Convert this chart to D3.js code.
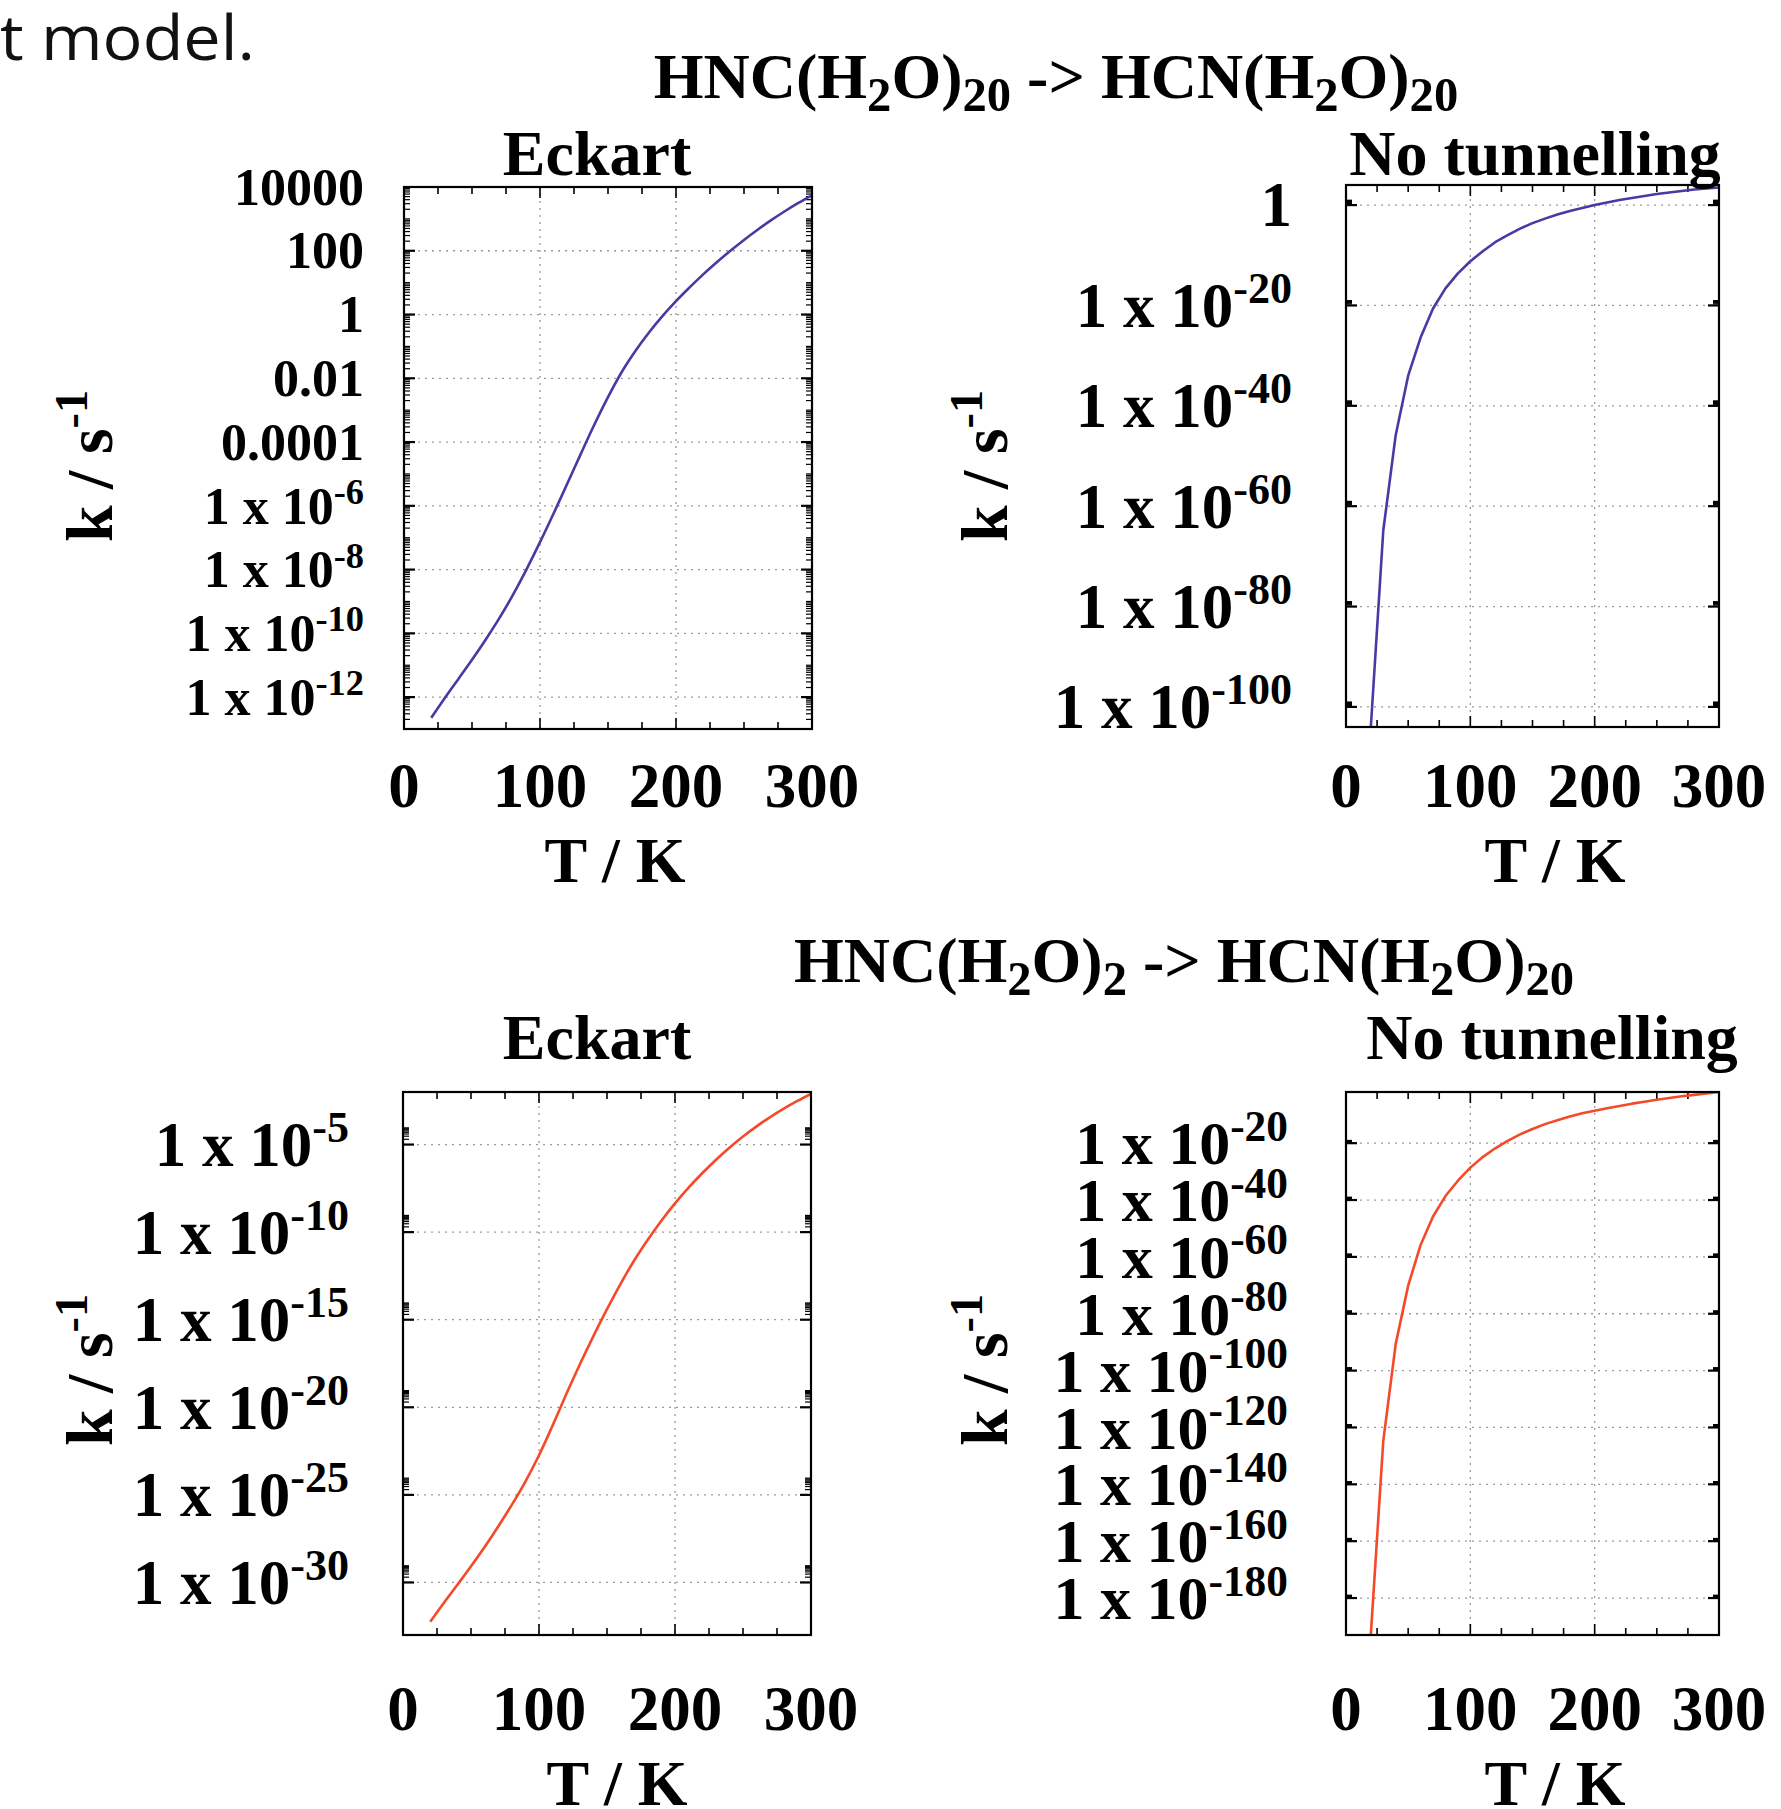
<!DOCTYPE html>
<html>
<head>
<meta charset="utf-8">
<script src="https://cdn.jsdelivr.net/npm/d3@7"></script>
<style>
  html, body { margin: 0; padding: 0; background: #fff; }
  svg { display: block; }
</style>
</head>
<body>
<div id="chart"></div>
<script>
// temperatures (K) at which the curves were read
const temps = [20, 30, 40, 50, 60, 70, 80, 90, 100, 110, 120, 130, 140, 150, 160,
               170, 180, 190, 200, 210, 220, 230, 240, 250, 260, 270, 280, 290, 300];

// log10(k / s^-1)
const eckart20 = [-12.65, -12.03, -11.43, -10.83, -10.2, -9.53, -8.8, -8.0, -7.14, -6.24,
                  -5.31, -4.37, -3.45, -2.59, -1.81, -1.15, -0.57, -0.05, 0.42, 0.85,
                  1.26, 1.64, 2.0, 2.34, 2.66, 2.96, 3.24, 3.5, 3.74];
const noTunnel20 = [-103.9, -64.8, -45.8, -34.0, -26.4, -20.6, -16.6, -13.6, -11.2, -9.2,
                    -7.4, -6.0, -4.7, -3.6, -2.7, -1.9, -1.2, -0.6, 0.0, 0.5,
                    1.0, 1.4, 1.8, 2.2, 2.5, 2.8, 3.1, 3.3, 3.5];
const eckart2 = [-32.25, -31.17, -30.13, -29.08, -27.98, -26.81, -25.57, -24.24, -22.74, -21.04,
                 -19.26, -17.56, -15.94, -14.4, -12.95, -11.62, -10.44, -9.35, -8.36, -7.46,
                 -6.64, -5.88, -5.18, -4.54, -3.96, -3.43, -2.95, -2.51, -2.11];
const noTunnel2 = [-192.7, -124.6, -90.6, -70.1, -55.8, -45.8, -38.6, -33.2, -28.6, -24.9,
                   -21.8, -19.2, -16.9, -15.0, -13.3, -11.9, -10.6, -9.5, -8.6, -7.7,
                   -6.9, -6.1, -5.4, -4.7, -4.1, -3.5, -3.0, -2.5, -2.0];

const xTicks = [0, 100, 200, 300];
const xMinorStep = 25;

// y tick exponents and their labels ("^{..}" = superscript)
const yTicks1 = [4, 2, 0, -2, -4, -6, -8, -10, -12];
const yLabels1 = ["10000", "100", "1", "0.01", "0.0001", "1 x 10^{-6}", "1 x 10^{-8}",
                  "1 x 10^{-10}", "1 x 10^{-12}"];
const yTicks2 = [0, -20, -40, -60, -80, -100];
const yLabels2 = ["1", "1 x 10^{-20}", "1 x 10^{-40}", "1 x 10^{-60}", "1 x 10^{-80}", "1 x 10^{-100}"];
const yTicks3 = [-5, -10, -15, -20, -25, -30];
const yLabels3 = ["1 x 10^{-5}", "1 x 10^{-10}", "1 x 10^{-15}", "1 x 10^{-20}", "1 x 10^{-25}", "1 x 10^{-30}"];
const yTicks4 = [-20, -40, -60, -80, -100, -120, -140, -160, -180];
const yLabels4 = ["1 x 10^{-20}", "1 x 10^{-40}", "1 x 10^{-60}", "1 x 10^{-80}", "1 x 10^{-100}",
                  "1 x 10^{-120}", "1 x 10^{-140}", "1 x 10^{-160}", "1 x 10^{-180}"];

const titleTop = "HNC(H_{2}O)_{20} -> HCN(H_{2}O)_{20}";
const titleBottom = "HNC(H_{2}O)_{2} -> HCN(H_{2}O)_{20}";

const BLUE = "#4d37a3";
const RED = "#f44a2a";
const SERIF = "'Liberation Serif', 'Times New Roman', serif";

const W = 1781, H = 1809;

const panels = [
    { vals: eckart20, color: BLUE, smooth: true, yTicks: yTicks1, yLabels: yLabels1, yDom: [-13, 4],
      box: { l: 404, r: 812, t: 187, b: 729 }, sub: "Eckart", subX: 597, subY: 175,
      tickFs: 52, labelRight: 364, allDecades: true,
      yLab: { x: 112, y: 466 }, xTickY: 807, xLabX: 615, xLabY: 882 },
    { vals: noTunnel20, color: BLUE, smooth: false, yTicks: yTicks2, yLabels: yLabels2, yDom: [-104, 4],
      box: { l: 1346, r: 1719, t: 185, b: 727 }, sub: "No tunnelling", subX: 1535, subY: 175,
      tickFs: 63, labelRight: 1292, allDecades: false,
      yLab: { x: 1007, y: 466 }, xTickY: 807, xLabX: 1555, xLabY: 882 },
    { vals: eckart2, color: RED, smooth: true, yTicks: yTicks3, yLabels: yLabels3, yDom: [-33, -2],
      box: { l: 403, r: 811, t: 1092, b: 1635 }, sub: "Eckart", subX: 597, subY: 1059,
      tickFs: 63, labelRight: 349, allDecades: false,
      yLab: { x: 112, y: 1370 }, xTickY: 1730, xLabX: 617, xLabY: 1805 },
    { vals: noTunnel2, color: RED, smooth: false, yTicks: yTicks4, yLabels: yLabels4, yDom: [-193, -2],
      box: { l: 1346, r: 1719, t: 1092, b: 1635 }, sub: "No tunnelling", subX: 1552, subY: 1059,
      tickFs: 62, labelRight: 1288, allDecades: false,
      yLab: { x: 1007, y: 1370 }, xTickY: 1730, xLabX: 1555, xLabY: 1805 }
];

const svg = d3.select("#chart").append("svg")
    .attr("width", W)
    .attr("height", H)
    .style("background", "#fff");

svg.append("rect").attr("width", W).attr("height", H).attr("fill", "#fff");

// text with _{sub} and ^{sup} pieces
function richText(parent, str, fs, x, y, anchor) {
    const t = parent.append("text")
        .attr("x", x)
        .attr("y", y)
        .attr("text-anchor", anchor)
        .attr("font-family", SERIF)
        .attr("font-weight", "bold")
        .attr("font-size", fs)
        .attr("fill", "#000");
    const re = /([_^])\{([^}]*)\}/g;
    let last = 0, shift = 0, m;
    while ((m = re.exec(str)) !== null) {
        if (m.index > last) {
            t.append("tspan").attr("dy", -shift).text(str.slice(last, m.index));
            shift = 0;
        }
        const sup = m[1] === "^";
        const d = sup ? -0.38 * fs : 0.2 * fs;
        t.append("tspan")
            .attr("dy", d - shift)
            .attr("font-size", fs * (sup ? 0.7 : 0.76))
            .text(m[2]);
        shift = d;
        last = re.lastIndex;
    }
    if (last < str.length) {
        t.append("tspan").attr("dy", -shift).text(str.slice(last));
    }
    return t;
}

// slide text fragment at top-left
svg.append("text")
    .attr("x", 0)
    .attr("y", 60)
    .attr("font-family", "'Open Sans', 'Noto Sans', sans-serif")
    .attr("font-size", 62)
    .attr("fill", "#111")
    .attr("textLength", 255)
    .attr("lengthAdjust", "spacingAndGlyphs")
    .text("t model.");

richText(svg, titleTop, 64, 1056, 98, "middle");
richText(svg, titleBottom, 64, 1184, 982, "middle");

const defs = svg.append("defs");

panels.forEach((p, i) => {
    const b = p.box;
    const x = d3.scaleLinear().domain([0, 300]).range([b.l, b.r]);
    const y = d3.scaleLog().domain([10 ** p.yDom[0], 10 ** p.yDom[1]]).range([b.b, b.t]);
    const g = svg.append("g");

    // grid
    const gridX = xTicks.filter(v => v > 0 && v < 300);
    g.selectAll(".gx").data(gridX).enter().append("line")
        .attr("x1", d => x(d)).attr("x2", d => x(d))
        .attr("y1", b.t).attr("y2", b.b)
        .attr("stroke", "#9a9a9a").attr("stroke-width", 1.3)
        .attr("stroke-dasharray", "2,5");
    const gridY = p.yTicks.filter(e => e > p.yDom[0] && e < p.yDom[1]);
    g.selectAll(".gy").data(gridY).enter().append("line")
        .attr("x1", b.l).attr("x2", b.r)
        .attr("y1", d => y(10 ** d)).attr("y2", d => y(10 ** d))
        .attr("stroke", "#9a9a9a").attr("stroke-width", 1.3)
        .attr("stroke-dasharray", "2,5");

    // x ticks (bottom + mirrored top)
    const xMinor = d3.range(0, 300 + 1, xMinorStep).filter(v => !xTicks.includes(v));
    [[xTicks, 11], [xMinor, 7]].forEach(([vals, len]) => {
        g.selectAll(null).data(vals).enter().append("line")
            .attr("x1", d => x(d)).attr("x2", d => x(d))
            .attr("y1", b.b).attr("y2", b.b - len)
            .attr("stroke", "#000").attr("stroke-width", 1.6);
        g.selectAll(null).data(vals).enter().append("line")
            .attr("x1", d => x(d)).attr("x2", d => x(d))
            .attr("y1", b.t).attr("y2", b.t + len)
            .attr("stroke", "#000").attr("stroke-width", 1.6);
    });

    // y minor ticks (log)
    let yMinor = [];
    if (p.allDecades) {
        for (let e = p.yDom[0]; e < p.yDom[1]; e++) {
            for (let k = 1; k <= 9; k++) {
                const v = e + Math.log10(k);
                if (k === 1 && p.yTicks.includes(e)) continue;
                yMinor.push(v);
            }
        }
    } else {
        p.yTicks.forEach(e => {
            for (let k = 2; k <= 9; k++) yMinor.push(e + Math.log10(k));
        });
    }
    yMinor = yMinor.filter(v => v > p.yDom[0] && v < p.yDom[1]);
    [[gridY, 11, 2.2], [yMinor, 6, 1.2]].forEach(([vals, len, sw]) => {
        g.selectAll(null).data(vals).enter().append("line")
            .attr("x1", b.l).attr("x2", b.l + len)
            .attr("y1", d => y(10 ** d)).attr("y2", d => y(10 ** d))
            .attr("stroke", "#000").attr("stroke-width", sw);
        g.selectAll(null).data(vals).enter().append("line")
            .attr("x1", b.r).attr("x2", b.r - len)
            .attr("y1", d => y(10 ** d)).attr("y2", d => y(10 ** d))
            .attr("stroke", "#000").attr("stroke-width", sw);
    });

    // curve
    defs.append("clipPath").attr("id", "clip" + i)
        .append("rect").attr("x", b.l).attr("y", b.t)
        .attr("width", b.r - b.l).attr("height", b.b - b.t);
    const pts = temps.map((t, j) => ({ t: t, k: 10 ** p.vals[j] }));
    const line = d3.line()
        .x(d => x(d.t))
        .y(d => y(d.k))
        .curve(p.smooth ? d3.curveMonotoneX : d3.curveLinear);
    g.append("path")
        .datum(pts)
        .attr("clip-path", `url(#clip${i})`)
        .attr("d", line)
        .attr("fill", "none")
        .attr("stroke", p.color)
        .attr("stroke-width", 2.6)
        .attr("stroke-linejoin", "round");

    // frame
    g.append("rect")
        .attr("x", b.l).attr("y", b.t)
        .attr("width", b.r - b.l).attr("height", b.b - b.t)
        .attr("fill", "none").attr("stroke", "#000").attr("stroke-width", 2.2);

    // y tick labels
    p.yTicks.forEach((e, j) => {
        richText(g, p.yLabels[j], p.tickFs, p.labelRight, y(10 ** e) + 0.34 * p.tickFs, "end");
    });

    // x tick labels
    xTicks.forEach(v => {
        richText(g, String(v), 63, x(v), p.xTickY, "middle");
    });

    // axis titles
    richText(g, "T / K", 64, p.xLabX, p.xLabY, "middle");
    const yl = g.append("g").attr("transform", `translate(${p.yLab.x},${p.yLab.y}) rotate(-90)`);
    richText(yl, "k / s^{-1}", 66, 0, 0, "middle");

    // panel title
    richText(g, p.sub, 64, p.subX, p.subY, "middle");
});
</script>
</body>
</html>
